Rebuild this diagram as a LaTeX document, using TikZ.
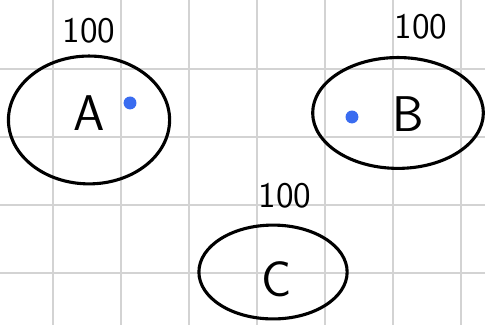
\documentclass[tikz,border=0pt]{standalone}
\usepackage{tikz}
\usetikzlibrary{shapes.geometric, positioning}
\usepackage{xcolor}
\definecolor{gridgray}{HTML}{D3D3D3}
\definecolor{dotblue}{HTML}{3A6CF0}

\tikzset{
    gridline/.style={gridgray, line width=0.8pt},
    blob/.style={draw, ellipse, line width=1.3pt, inner sep=0pt},
    letter/.style={font=\sffamily\fontsize{21}{24}\selectfont},
    weight/.style={font=\sffamily\fontsize{15}{18}\selectfont},
    point/.style={circle, fill=dotblue, minimum size=0.19cm, inner sep=0pt}
}

\begin{document}
\begin{tikzpicture}
    \useasboundingbox (0,0) rectangle (7.132,4.779);
    % Grid paper
    \foreach \gx in {0,...,6}
        \draw[gridline] (0.78+\gx,0) -- (0.78+\gx,4.779);
    \foreach \gy in {0,...,3}
        \draw[gridline] (0,0.765+\gy) -- (7.132,0.765+\gy);

    % Set A
    \node[blob, minimum width=2.37cm, minimum height=1.88cm] (setA) at (1.309,3.015) {};
    \node[letter] (labA) at (1.309,3.118) {A};
    \node[weight] (wA) at (1.309,4.324) {100};
    \node[point] (dotA) at (1.912,3.265) {};

    % Set B
    \node[blob, minimum width=2.51cm, minimum height=1.63cm] (setB) at (5.853,3.118) {};
    \node[letter] (labB) at (6.0,3.103) {B};
    \node[weight] (wB) at (6.191,4.382) {100};
    \node[point] (dotB) at (5.176,3.059) {};

    % Set C
    \node[blob, minimum width=2.18cm, minimum height=1.38cm] (setC) at (4.015,0.779) {};
    \node[letter] (labC) at (4.074,0.676) {C};
    \node[weight] (wC) at (4.191,1.897) {100};
\end{tikzpicture}
\end{document}
